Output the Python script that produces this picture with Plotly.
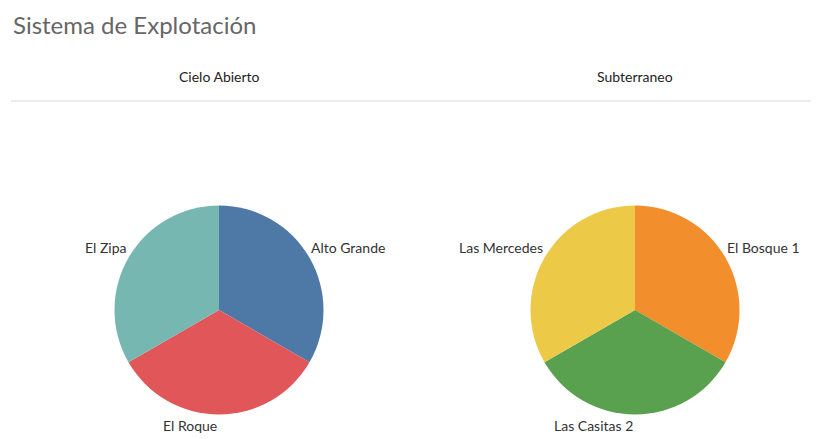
import math
import plotly.graph_objects as go

title = "Sistema de Explotación"
panels = ["Cielo Abierto", "Subterraneo"]
labels_cielo = ["Alto Grande", "El Roque", "El Zipa"]
values_cielo = [1, 1, 1]
colors_cielo = ["#4E79A7", "#E15759", "#76B7B2"]
labels_sub = ["El Bosque 1", "Las Casitas 2", "Las Mercedes"]
values_sub = [1, 1, 1]
colors_sub = ["#F28E2B", "#59A14F", "#EDC948"]

# page body has an 8px margin; size the figure so it ends at the window edge
OFF = 8
W, H = 819 - OFF, 439 - OFF
FONT = "Lato, 'Open Sans', sans-serif"
R = 104.5
CY = 310 - OFF


def px(x):
    return (x - OFF) / W


def py(y):
    return 1 - (y - OFF) / H


def pie(labels, values, colors, cx):
    return go.Pie(
        labels=labels, values=values, sort=False, direction="clockwise",
        rotation=0, marker=dict(colors=colors, line=dict(width=0)),
        textinfo="none",
        domain=dict(x=[px(cx - R), px(cx + R)], y=[py(310 + R), py(310 - R)]),
        showlegend=False, hoverinfo="label+value",
    )


def slice_labels(labels, values, cx):
    anns = []
    total = sum(values)
    cum = 0
    for lab, v in zip(labels, values):
        mid = (cum + v / 2) / total * 2 * math.pi
        cum += v
        s, c = math.sin(mid), math.cos(mid)
        ex = cx + R * s
        ey = 310 - R * c
        xa = "left" if s > 0.01 else "right"
        ya = "bottom" if c > 0 else "top"
        anns.append(dict(text=lab, x=px(ex), y=py(ey), xref="paper", yref="paper",
                         xanchor=xa, yanchor=ya, showarrow=False,
                         font=dict(family=FONT, size=14, color="#333333")))
    return anns


fig = go.Figure()
fig.add_trace(pie(labels_cielo, values_cielo, colors_cielo, 219))
fig.add_trace(pie(labels_sub, values_sub, colors_sub, 635))

annotations = [
    dict(text=title, x=px(11), y=py(25), xref="paper", yref="paper",
         xanchor="left", yanchor="middle", showarrow=False,
         font=dict(family=FONT, size=24, color="#666666")),
    dict(text=panels[0], x=px(219), y=py(76), xref="paper", yref="paper",
         xanchor="center", yanchor="middle", showarrow=False,
         font=dict(family=FONT, size=14, color="#222222")),
    dict(text=panels[1], x=px(635), y=py(76), xref="paper", yref="paper",
         xanchor="center", yanchor="middle", showarrow=False,
         font=dict(family=FONT, size=14, color="#222222")),
]
annotations += slice_labels(labels_cielo, values_cielo, 219)
annotations += slice_labels(labels_sub, values_sub, 635)

fig.update_layout(
    width=W, height=H, margin=dict(l=0, r=0, t=0, b=0),
    paper_bgcolor="white", plot_bgcolor="white",
    font=dict(family=FONT),
    annotations=annotations,
    shapes=[
        dict(type="line", xref="paper", yref="paper", x0=px(11), x1=1,
             y0=py(101), y1=py(101), line=dict(color="#d9d9d9", width=1)),
    ],
)

fig.write_html("out.html")
